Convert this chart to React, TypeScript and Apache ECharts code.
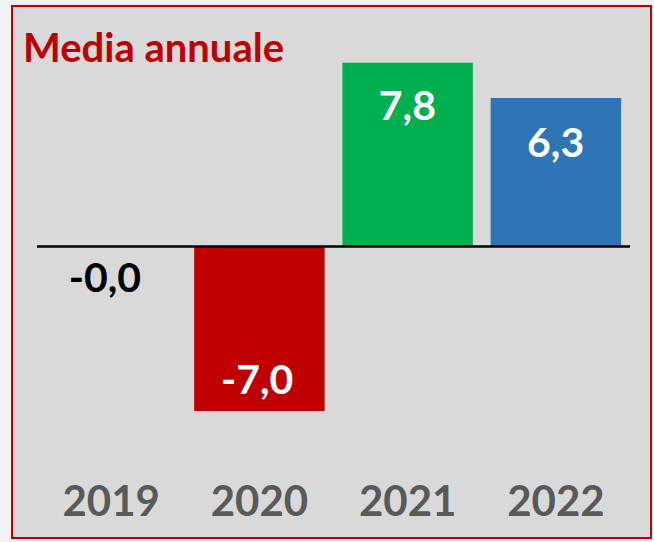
import React, { useEffect, useRef } from "react";
import * as echarts from "echarts";

const categories = ["2019", "2020", "2021", "2022"];
const values = [-0.02, -7.0, 7.8, 6.3];
const barColors = ["#c00000", "#c00000", "#00b050", "#2e75b6"];
const labelColors = ["#000000", "#ffffff", "#ffffff", "#ffffff"];
const labelOffsets = [30, 132, 42, 43];
const labelXOffsets = [59, 63, 65, 65];
const titleText = "Media annuale";

const FONT = "Lato, 'Open Sans', sans-serif";

function fmt(v: number): string {
  return v.toFixed(1).replace(".", ",");
}

export default function App() {
  const ref = useRef<HTMLDivElement>(null);
  useEffect(() => {
    if (!ref.current) return;
    const chart = echarts.init(ref.current, undefined, { renderer: "svg" });
    chart.setOption({
      animation: false,
      backgroundColor: "#f2f2f2",
      graphic: [
        {
          type: "rect",
          z: -10,
          shape: { x: 12, y: 6, width: 639, height: 532 },
          style: { fill: "#d9d9d9", stroke: "#c00000", lineWidth: 2 },
        },
      ],
      title: {
        text: titleText,
        left: 18,
        top: 22,
        textStyle: { fontFamily: FONT, fontWeight: "bold", fontSize: 40, color: "#c00000" },
      },
      grid: { left: 37, right: 24, top: 58, height: 400, containLabel: false },
      xAxis: {
        type: "category",
        data: categories,
        axisLine: { show: false, onZero: false },
        axisTick: { show: false },
        axisLabel: {
          margin: 21,
          fontFamily: FONT,
          fontWeight: "bold",
          fontSize: 42,
          lineHeight: 42,
          color: "#595959",
        },
      },
      yAxis: {
        type: "value",
        min: -9,
        max: 8,
        show: false,
        splitLine: { show: false },
      },
      series: [
        {
          type: "bar",
          barCategoryGap: "12%",
          data: values.map((v, i) => ({
            value: v,
            itemStyle: { color: barColors[i] },
            label: {
              show: true,
              position: [labelXOffsets[i], labelOffsets[i]],
              align: "center",
              verticalAlign: "middle",
              formatter: () => fmt(v),
              fontFamily: FONT,
              fontWeight: "bold",
              fontSize: 41,
              color: labelColors[i],
            },
          })),
          markLine: {
            silent: true,
            symbol: ["none", "none"],
            label: { show: false },
            lineStyle: { color: "#000000", width: 2.5, type: "solid" },
            data: [{ yAxis: 0 }],
          },
        },
      ],
    });
    return () => chart.dispose();
  }, []);
  return (
    <div
      ref={ref}
      style={{ position: "fixed", left: 0, top: 0, width: 654, height: 542 }}
    />
  );
}
